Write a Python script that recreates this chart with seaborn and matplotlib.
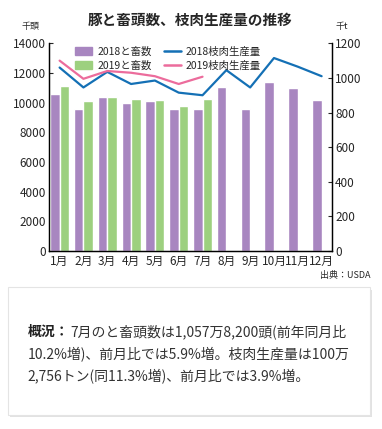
import numpy as np
import pandas as pd
import matplotlib
matplotlib.use("Agg")
import matplotlib.pyplot as plt
import seaborn as sns
from matplotlib.patches import FancyBboxPatch, Patch
from matplotlib.lines import Line2D

# data
months = ["1月", "2月", "3月", "4月", "5月", "6月", "7月", "8月", "9月", "10月", "11月", "12月"]
head_2018 = [10600, 9600, 10400, 9950, 10100, 9600, 9550, 11050, 9600, 11400, 11000, 10200]
head_2019 = [11100, 10100, 10400, 10250, 10150, 9800, 10250]
meat_2018 = [1060, 945, 1035, 965, 985, 915, 900, 1045, 945, 1115, 1065, 1010]
meat_2019 = [1100, 995, 1040, 1030, 1010, 965, 1007]

c_2018 = "#A886C0"
c_2019 = "#9DD07F"
c_line18 = "#1470B5"
c_line19 = "#EC6C9C"

sns.set_style("white")
plt.rcParams['font.family'] = ['Noto Sans CJK JP', 'DejaVu Sans']

# long table for the bars
bars = pd.DataFrame({
    "month": months + months[:len(head_2019)],
    "year": ["2018"] * len(head_2018) + ["2019"] * len(head_2019),
    "head": head_2018 + head_2019,
})

fig = plt.figure(figsize=(3.82, 4.29), dpi=100)
ax = fig.add_axes([0.128, 0.415, 0.742, 0.484])

sns.barplot(data=bars, x="month", y="head", hue="year", order=months,
            hue_order=["2018", "2019"], palette=[c_2018, c_2019],
            width=0.8, saturation=1, ax=ax, legend=False)
ax.set_xlim(-0.45, 11.45)
ax.set_ylim(0, 14000)
ax.set_yticks(range(0, 14001, 2000))
ax.set_xlabel("")
ax.set_ylabel("")
ax.tick_params(axis="y", direction="in", length=3, labelsize=8.5, pad=2)
ax.tick_params(axis="x", which="major", length=0, labelsize=8.5, pad=3)
ax.set_xticks(np.arange(0.5, 11, 1), minor=True)
ax.tick_params(axis="x", which="minor", direction="in", length=2.5)

# lines on the secondary axis
ax2 = ax.twinx()
lines = pd.DataFrame({
    "x": list(range(12)) + list(range(len(meat_2019))),
    "t": meat_2018 + meat_2019,
    "year": ["2018"] * 12 + ["2019"] * len(meat_2019),
})
sns.lineplot(data=lines, x="x", y="t", hue="year", palette=[c_line18, c_line19],
             linewidth=1.6, ax=ax2, legend=False)
ax2.set_ylim(0, 1200)
ax2.set_yticks(range(0, 1201, 200))
ax2.set_ylabel("")
ax2.set_xlabel("")
ax2.tick_params(axis="y", direction="in", length=3, labelsize=8.5, pad=2)

for a in (ax, ax2):
    a.spines["top"].set_visible(False)
    for s in ("left", "right", "bottom"):
        a.spines[s].set_color("black")
        a.spines[s].set_linewidth(0.9)

handles = [
    Patch(color=c_2018, label="2018と畜数"),
    Patch(color=c_2019, label="2019と畜数"),
    Line2D([], [], color=c_line18, lw=1.8, label="2018枝肉生産量"),
    Line2D([], [], color=c_line19, lw=1.8, label="2019枝肉生産量"),
]
ax2.legend(handles=handles, ncol=2, loc="upper left", bbox_to_anchor=(0.06, 1.03),
           frameon=False, fontsize=7.5, handlelength=1.6, handleheight=0.9,
           handletextpad=0.5, columnspacing=1.2, labelspacing=0.35)

# titles and units
fig.text(0.497, 0.953, "豚と畜頭数、枝肉生産量の推移", ha="center", va="center",
         fontsize=10.5, fontweight="bold")
fig.text(0.081, 0.938, "千頭", ha="center", va="center", fontsize=6.5)
fig.text(0.895, 0.938, "千t", ha="center", va="center", fontsize=6.5)
fig.text(0.969, 0.357, "出典：USDA", ha="right", va="center", fontsize=6.5)

# summary box
box = FancyBboxPatch((0.021, 0.033), 0.948, 0.298, boxstyle="square,pad=0",
                     transform=fig.transFigure, facecolor="white",
                     edgecolor="#e4e4e4", linewidth=0.8)
shadow = FancyBboxPatch((0.025, 0.027), 0.948, 0.298, boxstyle="square,pad=0",
                        transform=fig.transFigure, facecolor="#cfcfcf",
                        edgecolor="none", alpha=0.6)
fig.patches.extend([shadow, box])

fs = 10
fig.text(0.073, 0.226, "概況：", ha="left", va="center", fontsize=fs,
         fontweight="bold", color="#222222")
fig.text(0.184, 0.226, "7月のと畜頭数は1,057万8,200頭(前年同月比", ha="left",
         va="center", fontsize=fs, color="#333333")
fig.text(0.073, 0.174, "10.2%増)、前月比では5.9%増。枝肉生産量は100万", ha="left",
         va="center", fontsize=fs, color="#333333")
fig.text(0.073, 0.121, "2,756トン(同11.3%増)、前月比では3.9%増。", ha="left",
         va="center", fontsize=fs, color="#333333")

fig.savefig("out.png", dpi=100)
